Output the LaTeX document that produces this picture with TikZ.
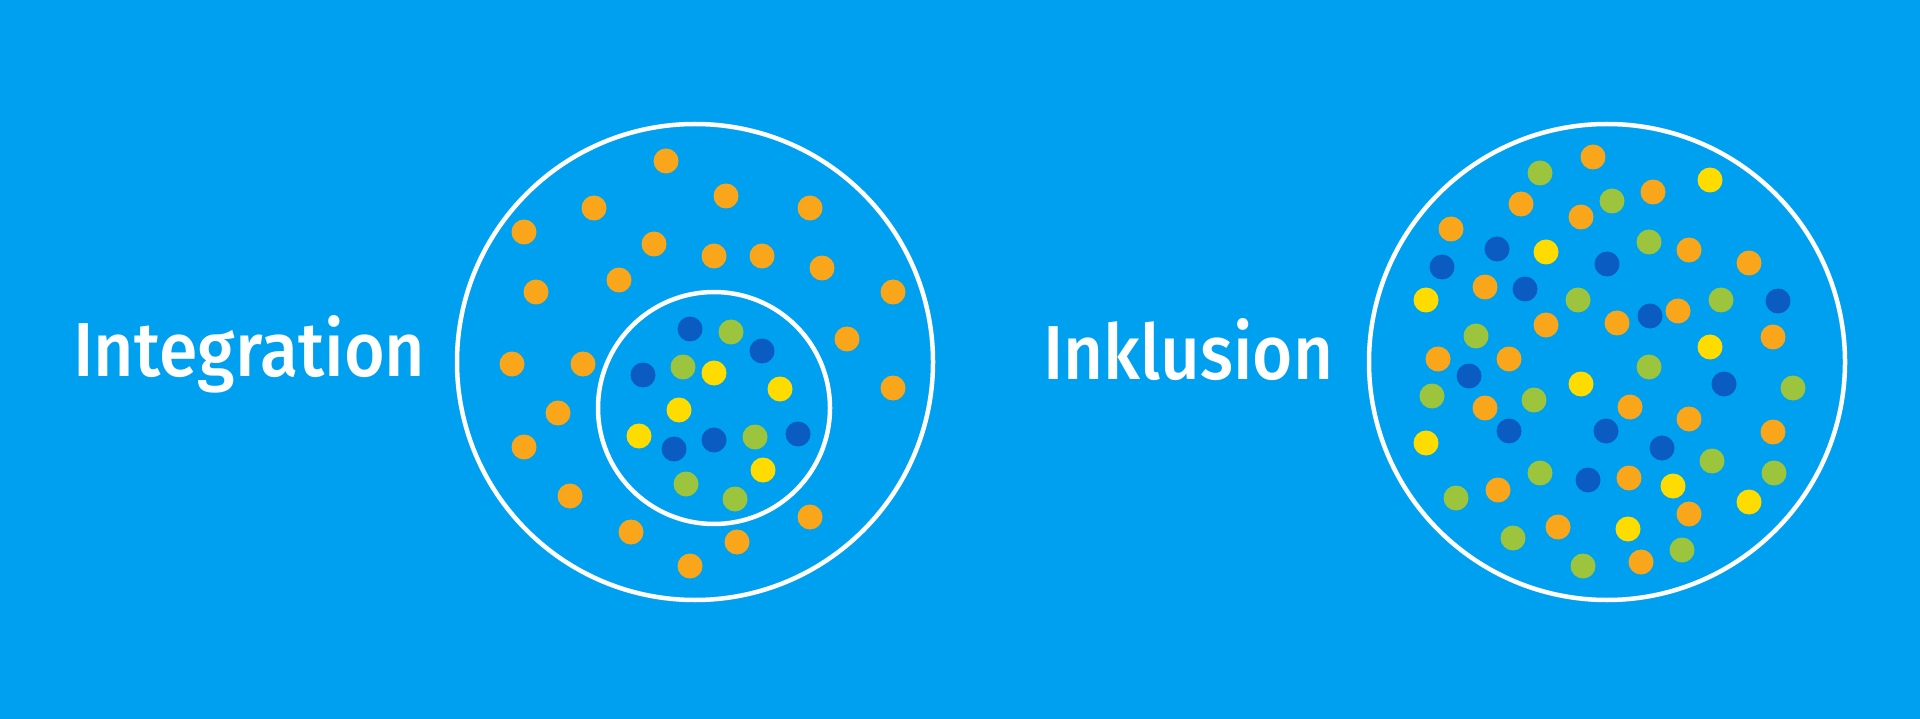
\documentclass[tikz,border=0pt]{standalone}
\usepackage{fontspec}
\setmainfont{Fira Sans}
\newfontfamily\labelfont{Fira Sans Medium}
\definecolor{bgblue}{HTML}{00A0F0}
\definecolor{dotorange}{HTML}{FAA61A}
\definecolor{dotgreen}{HTML}{9CC43C}
\definecolor{dotyellow}{HTML}{FFDC00}
\definecolor{dotdark}{HTML}{0A5CC2}
\tikzset{
  ring/.style={draw=white, line width=4.5pt},
  O/.style={fill=dotorange},
  G/.style={fill=dotgreen},
  Y/.style={fill=dotyellow},
  D/.style={fill=dotdark},
  label/.style={text=white, inner sep=0pt, anchor=base west, font=\labelfont}
}
\newcommand{\dt}[3]{\fill[#1] (#2,#3) circle (12.5);}
\begin{document}
\begin{tikzpicture}[x=1pt,y=-1pt]
\fill[bgblue] (0,0) rectangle (1920,719);
\useasboundingbox (0,0) rectangle (1920,719);
% labels
\node[label] (integ) at (73,376) {\resizebox{352pt}{61pt}{Integration}};
\node[label] (inkl) at (1043,380) {\resizebox{290pt}{61pt}{Inklusion}};
% circles
\draw[ring] (695,362) circle (238);
\draw[ring] (714,408) circle (116);
\draw[ring] (1607,362) circle (238);
% left outer dots
\foreach \x/\y in {666/161,726/196,594/208,810/208,524/232,654/244,714/256,762/256,822/268,619/280,536/292,893/292,847/339,512/364,583/364,893/388,558/413,524/447,570/496,810/517,631/532,737/542,690/566}
  {\dt{O}{\x}{\y}}
% left inner dots
\dt{D}{690}{329}\dt{G}{731}{332}\dt{D}{762}{351}\dt{D}{643}{375}
\dt{G}{683}{367}\dt{Y}{714}{373}\dt{Y}{780}{389}\dt{Y}{679}{410}
\dt{Y}{639}{436}\dt{D}{674}{449}\dt{D}{714}{440}\dt{G}{755}{437}
\dt{D}{798}{434}\dt{Y}{763}{470}\dt{G}{686}{484}\dt{G}{735}{499}
% right dots
\dt{O}{1593}{157}\dt{G}{1540}{173}\dt{Y}{1710}{180}\dt{O}{1653}{192}
\dt{G}{1612}{201}\dt{O}{1521}{204}\dt{O}{1581}{217}\dt{O}{1451}{229}
\dt{D}{1497}{249}\dt{Y}{1546}{252}\dt{G}{1649}{242}\dt{O}{1689}{250}
\dt{O}{1749}{263}\dt{D}{1442}{267}\dt{D}{1607}{264}\dt{O}{1485}{287}
\dt{D}{1525}{289}\dt{Y}{1426}{300}\dt{G}{1578}{300}\dt{G}{1721}{300}
\dt{D}{1778}{301}\dt{D}{1650}{316}\dt{O}{1678}{311}\dt{O}{1546}{325}
\dt{O}{1617}{323}\dt{G}{1476}{336}\dt{O}{1773}{337}\dt{Y}{1710}{347}
\dt{O}{1438}{359}\dt{O}{1509}{359}\dt{G}{1649}{367}\dt{D}{1469}{376}
\dt{Y}{1581}{384}\dt{D}{1724}{384}\dt{G}{1793}{388}\dt{G}{1432}{396}
\dt{G}{1534}{400}\dt{O}{1485}{408}\dt{O}{1630}{407}\dt{O}{1689}{419}
\dt{D}{1509}{431}\dt{D}{1606}{431}\dt{O}{1773}{432}\dt{Y}{1426}{443}
\dt{D}{1662}{448}\dt{G}{1712}{461}\dt{G}{1540}{473}\dt{D}{1588}{480}
\dt{O}{1629}{478}\dt{G}{1774}{473}\dt{Y}{1673}{486}\dt{O}{1498}{490}
\dt{G}{1456}{498}\dt{Y}{1749}{502}\dt{O}{1689}{514}\dt{O}{1558}{527}
\dt{Y}{1628}{529}\dt{G}{1513}{538}\dt{G}{1682}{550}\dt{G}{1583}{566}
\dt{O}{1641}{562}
\end{tikzpicture}
\end{document}
